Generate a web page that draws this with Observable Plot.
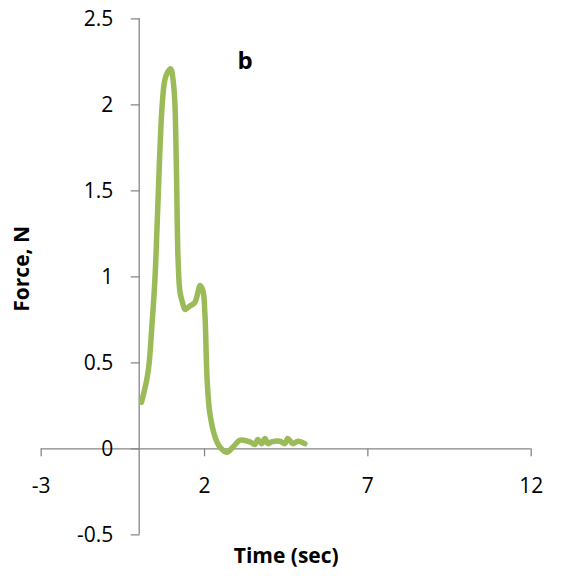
<!DOCTYPE html>
<html>
<head>
<meta charset="utf-8">
<script src="https://cdn.jsdelivr.net/npm/d3@7"></script>
<script src="https://cdn.jsdelivr.net/npm/@observablehq/plot@0.6"></script>
<style>
  html, body { margin: 0; padding: 0; background: #fff; }
  svg { display: block; }
</style>
</head>
<body>
<div id="chart"></div>
<script>
// Time (sec)
const time = [0.07, 0.23, 0.30, 0.38, 0.48, 0.56, 0.63, 0.70, 0.78, 0.87, 0.96, 0.99, 1.04, 1.09, 1.14, 1.19, 1.25, 1.34, 1.40, 1.55, 1.70, 1.80, 1.86, 1.95, 2.01, 2.08, 2.16, 2.32, 2.47, 2.68, 2.87, 3.09, 3.39, 3.54, 3.63, 3.75, 3.85, 3.94, 4.05, 4.31, 4.46, 4.55, 4.70, 4.86, 5.07];
// Force, N
const force = [0.27, 0.40, 0.49, 0.69, 0.98, 1.36, 1.72, 1.99, 2.14, 2.19, 2.21, 2.20, 2.14, 2.02, 1.62, 1.10, 0.91, 0.84, 0.81, 0.83, 0.85, 0.91, 0.95, 0.92, 0.79, 0.40, 0.21, 0.07, 0.01, -0.02, 0.01, 0.05, 0.04, 0.025, 0.054, 0.03, 0.06, 0.03, 0.04, 0.044, 0.03, 0.06, 0.03, 0.044, 0.03];

const xTicks = [-3, 2, 7, 12];
const yTicks = [-0.5, 0, 0.5, 1, 1.5, 2, 2.5];
const xTitle = "Time (sec)";
const yTitle = "Force, N";
const panelLabel = "b";

const data = time.map((t, i) => ({t, f: force[i]}));

const axisColor = "#868686";
const font = "'Open Sans', sans-serif";
const tickShape = {draw(context, l) { context.moveTo(0, 0); context.lineTo(0, -l); }};

const chart = Plot.plot({
  width: 561,
  height: 580,
  marginLeft: 40.7,
  marginRight: 30.3,
  marginTop: 18.3,
  marginBottom: 45.7,
  style: {fontFamily: font, background: "#fff"},
  x: {domain: [-3, 12], axis: null},
  y: {domain: [-0.5, 2.5], axis: null},
  marks: [
    // axis lines crossing at origin
    Plot.ruleX([0], {stroke: axisColor, strokeWidth: 1.3}),
    Plot.ruleY([0], {stroke: axisColor, strokeWidth: 1.3}),
    // y ticks (pointing left) and labels
    Plot.vector(yTicks, {x: 0, y: d => d, rotate: -90, length: 8, anchor: "start", stroke: axisColor, strokeWidth: 1.3, shape: tickShape}),
    Plot.text(yTicks, {x: 0, y: d => d, text: d => String(d), dx: -26, textAnchor: "end", fontSize: 21, fill: "#000"}),
    // x ticks (pointing down) and labels
    Plot.vector(xTicks, {x: d => d, y: 0, rotate: 180, length: 7, anchor: "start", stroke: axisColor, strokeWidth: 1.3, shape: tickShape}),
    Plot.text(xTicks, {x: d => d, y: 0, text: d => String(d), dy: 37, textAnchor: "middle", fontSize: 21, fill: "#000"}),
    // data line
    Plot.line(data, {x: "t", y: "f", stroke: "#9BBB59", strokeWidth: 5.5, curve: "catmull-rom", strokeLinecap: "round", strokeLinejoin: "round"}),
    // axis titles
    Plot.text([xTitle], {frameAnchor: "bottom", lineAnchor: "middle", textAnchor: "middle", dy: 21, fontSize: 21, fontWeight: "bold", fill: "#000"}),
    Plot.text([yTitle], {frameAnchor: "left", lineAnchor: "middle", textAnchor: "middle", dx: -18.7, dy: -8, rotate: -90, fontSize: 21, fontWeight: "bold", fill: "#000"}),
    // panel label
    Plot.text([panelLabel], {frameAnchor: "top-left", lineAnchor: "middle", textAnchor: "middle", dx: 204, dy: 43, fontSize: 24, fontWeight: "bold", fill: "#000"})
  ]
});

document.getElementById("chart").appendChild(chart);
</script>
</body>
</html>
